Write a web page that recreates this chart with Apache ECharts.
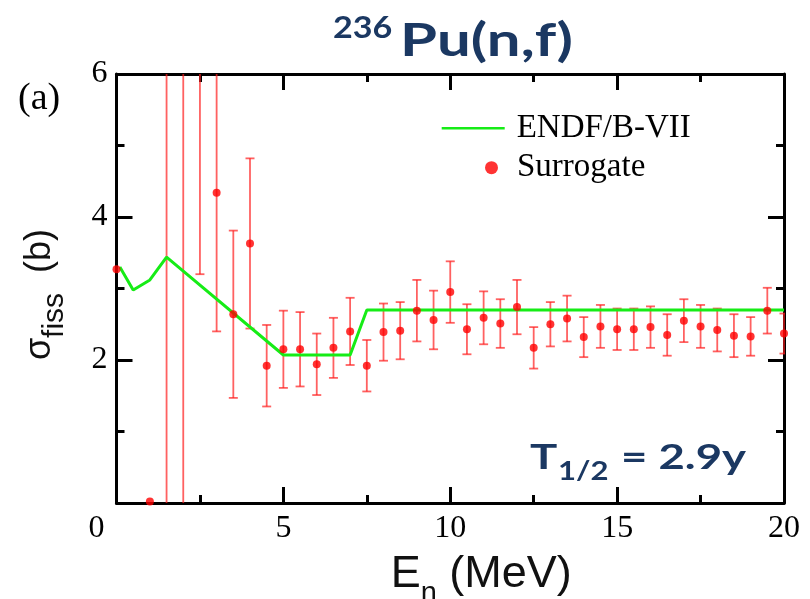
<!DOCTYPE html>
<html>
<head>
<meta charset="utf-8">
<script src="https://cdn.jsdelivr.net/npm/echarts@6/dist/echarts.min.js"></script>
<style>
  html, body { margin: 0; padding: 0; background: #fff; }
  #chart { width: 810px; height: 599px; }
</style>
</head>
<body>
<div id="chart"></div>
<script>
// Surrogate-method fission cross section, 236Pu(n,f)
const energies = [0, 1.0, 1.5, 2.0, 2.5, 3.0, 3.5, 4.0, 4.5, 5.0, 5.5, 6.0, 6.5, 7.0, 7.5, 8.0, 8.5, 9.0, 9.5, 10.0,
  10.5, 11.0, 11.5, 12.0, 12.5, 13.0, 13.5, 14.0, 14.5, 15.0, 15.5, 16.0, 16.5, 17.0, 17.5, 18.0, 18.5, 19.0, 19.5, 20.0];
const sigma = [3.27, 0.02, 8.0, 7.5, 6.6, 4.34, 2.64, 3.63, 1.92, 2.15, 2.15, 1.94, 2.17, 2.40, 1.92, 2.39, 2.41, 2.69, 2.56, 2.95,
  2.43, 2.59, 2.51, 2.74, 2.17, 2.50, 2.58, 2.32, 2.47, 2.43, 2.43, 2.46, 2.35, 2.55, 2.47, 2.42, 2.34, 2.33, 2.69, 2.37];
const sigmaErr = [0, 0, 9.0, 8.0, 3.4, 1.94, 1.17, 1.19, 0.57, 0.54, 0.52, 0.43, 0.42, 0.47, 0.36, 0.40, 0.40, 0.43, 0.41, 0.43,
  0.35, 0.37, 0.34, 0.38, 0.29, 0.31, 0.32, 0.28, 0.30, 0.29, 0.29, 0.29, 0.29, 0.30, 0.30, 0.30, 0.30, 0.27, 0.32, 0.28];

// Evaluated library curve
const endfE = [0.1, 0.5, 1.0, 1.5, 5.0, 7.0, 7.5, 20];
const endfSigma = [3.30, 2.98, 3.12, 3.44, 2.07, 2.07, 2.70, 2.70];

const xTicks = { min: 0, max: 20, interval: 5 };
const yTicks = { min: 0, max: 6, interval: 2 };

const serif = "'Liberation Serif', 'Times New Roman', serif";
const sans = "'Liberation Sans', Arial, sans-serif";
const navy = '#1b3862';
const green = '#16ec16';

const pointData = energies.map((e, i) => [e, sigma[i]]);
const errData = energies.map((e, i) => [e, sigma[i], sigmaErr[i]]);
const endfData = endfE.map((e, i) => [e, endfSigma[i]]);

function axisCommon(showLabels) {
  return {
    axisLine: { onZero: false, lineStyle: { color: '#000', width: 3 } },
    axisTick: { inside: true, length: 16, lineStyle: { color: '#000', width: 3 } },
    minorTick: { show: true, splitNumber: 2, length: 8, lineStyle: { color: '#000', width: 3 } },
    splitLine: { show: false },
    minorSplitLine: { show: false },
    axisLabel: { show: showLabels }
  };
}

function navyText(x, y, text, size, sx) {
  return {
    type: 'text', x: x, y: y, scaleX: sx,
    style: { text: text, fontFamily: 'Lato', fontWeight: 'bold', fontSize: size, fill: navy, align: 'left', verticalAlign: 'top' }
  };
}

const chart = echarts.init(document.getElementById('chart'), null, { renderer: 'canvas', width: 810, height: 599 });

chart.setOption({
  animation: false,
  backgroundColor: '#fff',
  grid: { left: 116.5, width: 667.5, top: 74, height: 429, containLabel: false, outerBoundsMode: 'none' },
  xAxis: [
    Object.assign(axisCommon(true), {
      type: 'value', position: 'bottom', min: xTicks.min, max: xTicks.max, interval: xTicks.interval,
      axisLabel: {
        show: true, color: '#000', fontFamily: serif, fontSize: 32, margin: 10,
        formatter: v => (v === 0 ? '{z|0}' : String(v)),
        rich: { z: { fontFamily: serif, fontSize: 32, color: '#000', padding: [0, 40, 0, 0] } }
      },
      name: '{n|E}{s|n}{n| (MeV)}',
      nameLocation: 'middle',
      nameGap: 48,
      nameTextStyle: {
        padding: [0, 0, 0, 62],
        rich: {
          n: { fontFamily: sans, fontSize: 45, color: '#111', verticalAlign: 'middle', lineHeight: 48 },
          s: { fontFamily: sans, fontSize: 29, color: '#111', verticalAlign: 'bottom', lineHeight: 29, padding: [0, 0, -9, 0] }
        }
      }
    }),
    Object.assign(axisCommon(false), {
      type: 'value', position: 'top', min: xTicks.min, max: xTicks.max, interval: xTicks.interval
    })
  ],
  yAxis: [
    Object.assign(axisCommon(true), {
      type: 'value', position: 'left', min: yTicks.min, max: yTicks.max, interval: yTicks.interval,
      axisLabel: { show: true, showMinLabel: false, color: '#000', fontFamily: serif, fontSize: 32, margin: 9 },
      name: '{n|σ}{s|fiss}{n|  (b)}',
      nameLocation: 'middle',
      nameRotate: 90,
      nameGap: 56,
      nameTextStyle: {
        padding: [0, 12, 0, 0],
        rich: {
          n: { fontFamily: sans, fontSize: 36, color: '#111', verticalAlign: 'middle', lineHeight: 40 },
          s: { fontFamily: sans, fontSize: 30, color: '#111', verticalAlign: 'bottom', lineHeight: 30, padding: [0, 0, -9, 0] }
        }
      }
    }),
    Object.assign(axisCommon(false), {
      type: 'value', position: 'right', min: yTicks.min, max: yTicks.max, interval: yTicks.interval
    })
  ],
  legend: [
    {
      data: [{ name: 'ENDF/B-VII', icon: 'rect' }],
      left: 441.7, top: 111.3, padding: 0,
      itemWidth: 63, itemHeight: 2.5,
      textStyle: { fontFamily: serif, fontSize: 33, color: '#000', lineHeight: 34, padding: [0, 0, 0, 7] }
    },
    {
      data: ['Surrogate'],
      left: 485, top: 150.7, padding: 0,
      icon: 'circle',
      itemWidth: 13, itemHeight: 13,
      textStyle: { fontFamily: serif, fontSize: 33, color: '#000', lineHeight: 34, padding: [0, 0, 0, 14] }
    }
  ],
  graphic: [
    navyText(333, 12.4, '236', 31, 1.1),
    navyText(400, 18.7, 'Pu(n,f)', 45, 1.33),
    { type: 'text', x: 18, y: 80, style: { text: '(a)', fontFamily: serif, fontSize: 38, fill: '#000' } },
    navyText(530, 440, 'T', 35, 1.3),
    navyText(558, 458, '1/2', 27, 1.15),
    navyText(621, 440, '= 2.9y', 35, 1.3)
  ],
  series: [
    {
      name: 'ENDF/B-VII',
      type: 'line',
      data: endfData,
      symbol: 'none',
      showSymbol: false,
      lineStyle: { color: green, width: 3 },
      itemStyle: { color: green },
      clip: true,
      z: 3
    },
    {
      type: 'custom',
      data: errData,
      clip: true,
      encode: { x: 0, y: 1 },
      z: 2,
      renderItem: function (params, api) {
        const x = api.value(0), v = api.value(1), e = api.value(2);
        if (!e) return null;
        const top = api.coord([x, v + e]);
        const bot = api.coord([x, v - e]);
        const hw = 4.5;
        const style = { stroke: 'rgba(255,30,30,0.7)', lineWidth: 1.8 };
        return {
          type: 'group',
          children: [
            { type: 'line', shape: { x1: top[0], y1: top[1], x2: bot[0], y2: bot[1] }, style: style },
            { type: 'line', shape: { x1: top[0] - hw, y1: top[1], x2: top[0] + hw, y2: top[1] }, style: style },
            { type: 'line', shape: { x1: bot[0] - hw, y1: bot[1], x2: bot[0] + hw, y2: bot[1] }, style: style }
          ]
        };
      }
    },
    {
      name: 'Surrogate',
      type: 'scatter',
      data: pointData,
      symbol: 'circle',
      symbolSize: 8,
      itemStyle: { color: '#ff0000' },
      clip: true,
      z: 4
    }
  ]
});
</script>
</body>
</html>
